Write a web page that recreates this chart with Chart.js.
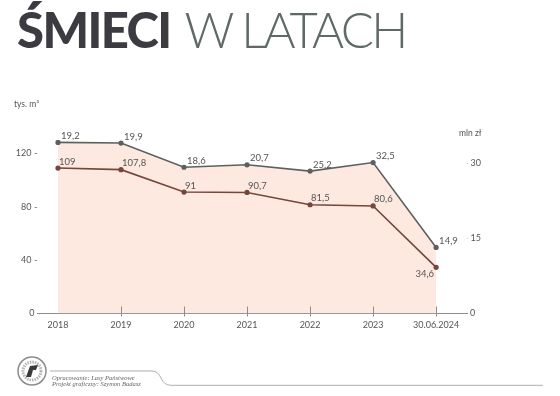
<!DOCTYPE html>
<html lang="pl">
<head>
<meta charset="utf-8">
<script src="https://cdn.jsdelivr.net/npm/chart.js@4"></script>
<style>
  html, body { margin: 0; padding: 0; background: #fff; }
  #wrap { position: relative; width: 560px; height: 396px; overflow: hidden; font-family: 'Lato', sans-serif; }
  #chart { position: absolute; left: 0; top: 0; }
  .title { position: absolute; left: 17px; top: 5px; font-size: 49px; line-height: 49px; white-space: nowrap; }
  .title b { font-weight: 900; color: #3c3b42; letter-spacing: -1.6px; }
  .title span { font-weight: 300; color: #5f6a66; margin-left: 14px; letter-spacing: -2.6px; }
  .unit { position: absolute; font-size: 8.5px; color: #555; }
  .footer { position: absolute; left: 0; top: 340px; }
</style>
</head>
<body>
<div id="wrap">
  <canvas id="chart" width="560" height="396"></canvas>
  <div class="title"><b>ŚMIECI</b><span>W LATACH</span></div>
  <div class="unit" style="left:14px; top:99px;">tys. m³</div>
  <div class="unit" style="left:459px; top:128px;">mln zł</div>
  <svg class="footer" width="560" height="56">
    <circle cx="32" cy="31" r="14" fill="#fff" stroke="#8c8c8c" stroke-width="1.5"/>
    <circle cx="32" cy="31" r="9" fill="none" stroke="#b5b5b5" stroke-width="3" stroke-dasharray="1.5 1"/>
    <path d="M26 37 L30 26 L38 25 L36 30 L33 30 L31 37 Z" fill="#3a3a3a"/>
    <path d="M50 31 L152 31 Q158 31 161 38 Q164 45.3 171 45.3 L543 45.3" fill="none" stroke="#9a9a9a" stroke-width="0.8"/>
    <text x="52" y="39.5" font-family="Liberation Serif" font-style="italic" font-size="6.5" fill="#666">Opracowanie: Lasy Państwowe</text>
    <text x="52" y="45.5" font-family="Liberation Serif" font-style="italic" font-size="6.5" fill="#666">Projekt graficzny: Szymon Badasz</text>
  </svg>
</div>
<script>
const years = ['2018', '2019', '2020', '2021', '2022', '2023', '30.06.2024'];
const volume = [109, 107.8, 91, 90.7, 81.5, 80.6, 34.6]; // tys. m3
const cost = [19.2, 19.9, 18.6, 20.7, 25.2, 32.5, 14.9]; // mln zl
const volumeTicks = [0, 40, 80, 120];
const costTicks = [0, 15, 30];

const grey = '#5c615e';
const brown = '#74463c';
const peach = '#fde9df';
const tickFont = { family: 'Lato', size: 9 };

const toPoints = (arr) => arr.map((v, i) => ({ x: i, y: v }));
const fmt = (v) => String(v).replace('.', ',');

// value labels next to the points
const valueLabels = {
	id: 'valueLabels',
	afterDatasetsDraw(chart) {
		const ctx = chart.ctx;
		ctx.save();
		ctx.font = '9.5px Lato';
		ctx.fillStyle = '#555';
		ctx.textBaseline = 'middle';
		chart.data.datasets.forEach((ds, di) => {
			const meta = chart.getDatasetMeta(di);
			meta.data.forEach((pt, i) => {
				const raw = ds.data[i].y;
				const last = i === ds.data.length - 1;
				if (di === 0 && last) {
					ctx.textAlign = 'right';
					ctx.fillText(fmt(raw), pt.x - 2, pt.y + 7);
				} else {
					ctx.textAlign = 'left';
					const dx = di === 0 ? 1 : 3;
					ctx.fillText(fmt(raw), pt.x + dx, pt.y - 6.5);
				}
			});
		});
		ctx.restore();
	},
};

// small tick marks crossing the x axis line
const axisMarks = {
	id: 'axisMarks',
	afterDatasetsDraw(chart) {
		const { ctx, scales, chartArea } = chart;
		ctx.save();
		ctx.strokeStyle = '#8d8d8d';
		ctx.lineWidth = 1;
		years.forEach((_, i) => {
			if (i === 0) return;
			const x = Math.round(scales.x.getPixelForValue(i)) + 0.5;
			ctx.beginPath();
			ctx.moveTo(x, chartArea.bottom - 7);
			ctx.lineTo(x, chartArea.bottom + 3);
			ctx.stroke();
		});
		ctx.restore();
	},
};

new Chart(document.getElementById('chart'), {
	type: 'line',
	data: {
		datasets: [
			{
				label: 'tys. m³',
				data: toPoints(volume),
				borderColor: brown,
				backgroundColor: brown,
				borderWidth: 1.6,
				pointRadius: 2.6,
				pointBackgroundColor: brown,
				pointBorderWidth: 0,
				fill: false,
				tension: 0,
			},
			{
				label: 'mln zł',
				data: toPoints(cost),
				borderColor: grey,
				backgroundColor: peach,
				borderWidth: 1.6,
				pointRadius: 2.6,
				pointBackgroundColor: grey,
				pointBorderWidth: 0,
				fill: 'origin',
				tension: 0,
			},
		],
	},
	options: {
		responsive: false,
		animation: false,
		devicePixelRatio: 1,
		layout: { padding: { top: 140, left: 0, right: 0, bottom: 0 } },
		plugins: { legend: { display: false }, tooltip: { enabled: false } },
		scales: {
			x: {
				type: 'linear',
				min: -0.333,
				max: 6.49,
				afterBuildTicks: (scale) => {
					scale.ticks = years.map((_, i) => ({ value: i }));
				},
				afterFit: (scale) => {
					scale.height = 82.5;
				},
				grid: { display: false, drawTicks: false },
				border: { display: true, color: '#8d8d8d', width: 1 },
				ticks: {
					padding: 6,
					color: '#555',
					font: tickFont,
					maxRotation: 0,
					autoSkip: false,
					callback: (v) => years[v],
				},
			},
			y: {
				position: 'left',
				stacked: true,
				min: 0,
				max: 130,
				afterBuildTicks: (scale) => {
					scale.ticks = volumeTicks.map((v) => ({ value: v }));
				},
				afterFit: (scale) => {
					scale.width = 37;
				},
				grid: { display: false, drawTicks: false },
				border: { display: false },
				ticks: {
					padding: -2,
					color: '#555',
					font: tickFont,
					callback: (v) => (v === 0 ? '0  ' : v + ' –'),
				},
			},
			y2: {
				position: 'right',
				min: 0,
				max: 34.58,
				afterBuildTicks: (scale) => {
					scale.ticks = costTicks.map((v) => ({ value: v }));
				},
				afterFit: (scale) => {
					scale.width = 93;
				},
				grid: { display: false, drawTicks: false },
				border: { display: false },
				ticks: {
					padding: -4,
					color: '#555',
					font: tickFont,
					callback: (v) => (v === 0 ? '   0' : '– ' + v),
				},
			},
		},
	},
	plugins: [valueLabels, axisMarks],
});
</script>
</body>
</html>
